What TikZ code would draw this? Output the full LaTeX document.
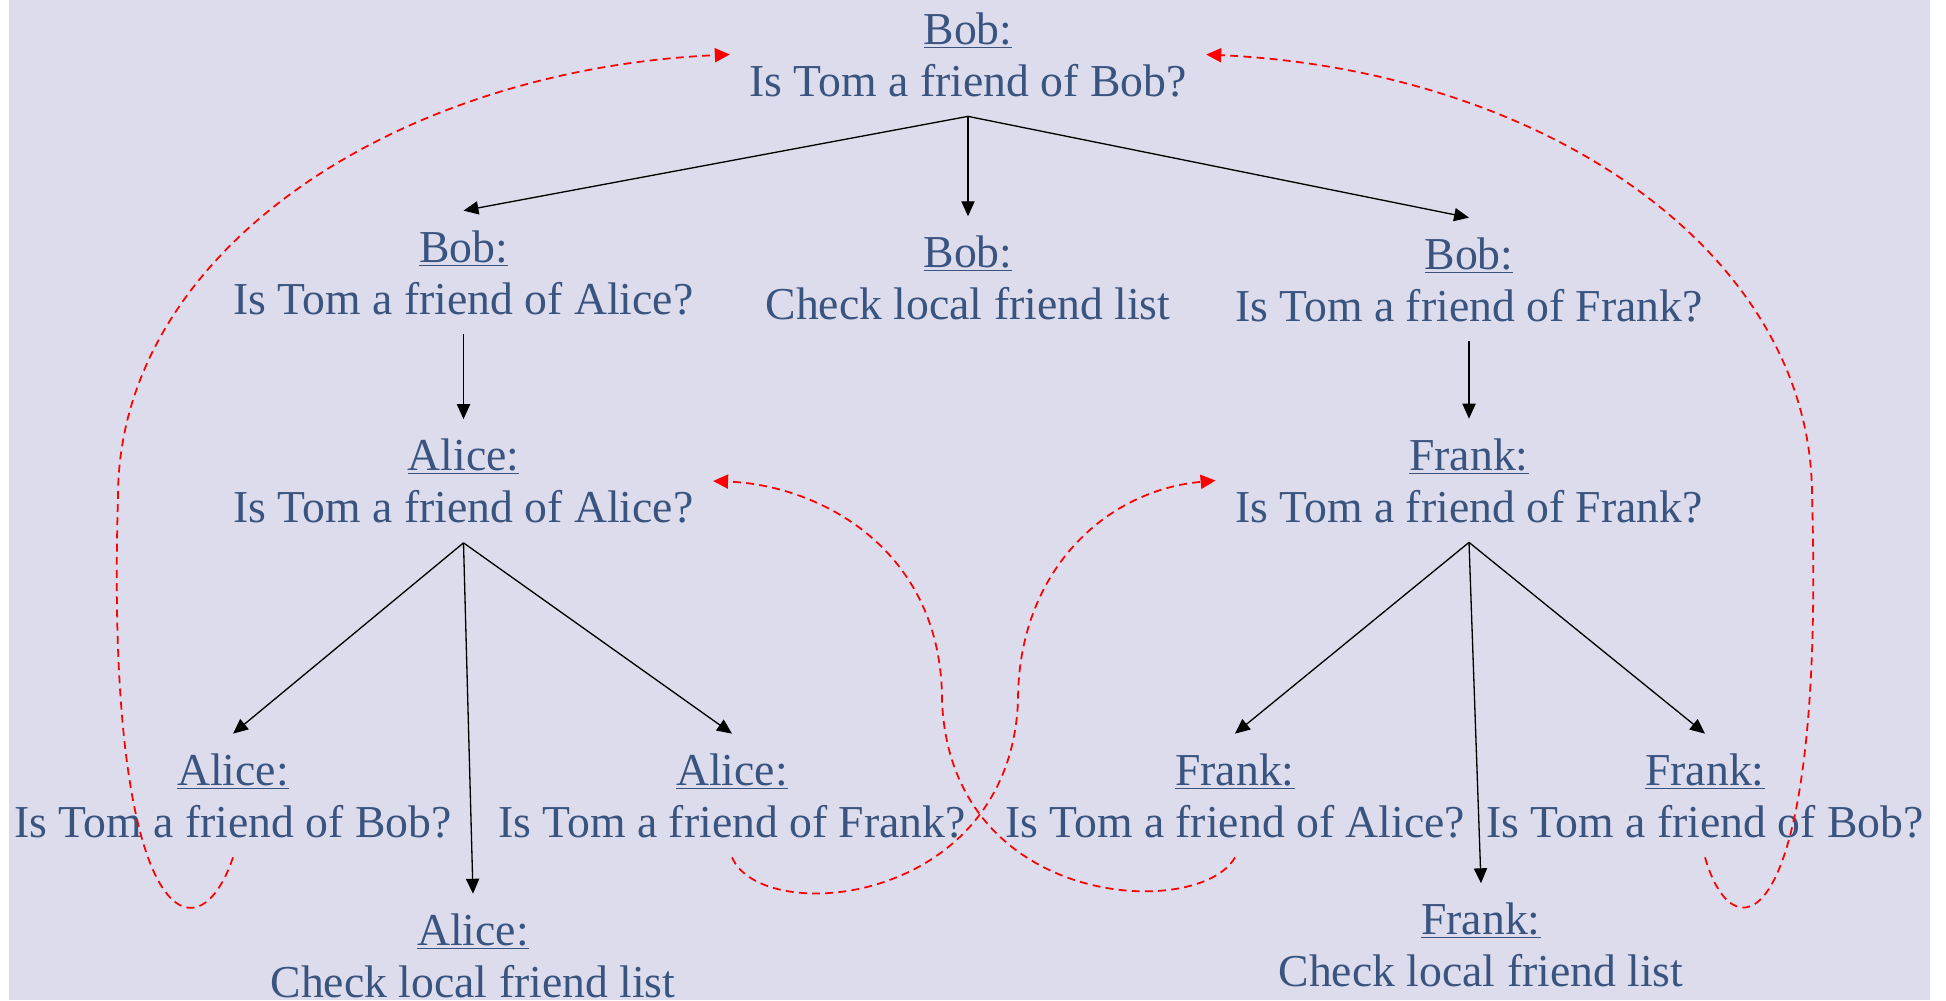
\documentclass[tikz,border=0pt]{standalone}
\usepackage{fontspec}
\setmainfont{Liberation Serif}
\usepackage{xcolor}
\usetikzlibrary{arrows.meta, positioning}
\definecolor{Q_TEXT}{HTML}{3A5480}
\definecolor{Q_BACK}{HTML}{DCDCEC}
\definecolor{Q_RED}{HTML}{FF0000}
\tikzset{
  ask/.style={
    rectangle, inner sep=11pt,
    text centered, align=center,
    text=Q_TEXT, font=\fontsize{26}{29.6}\selectfont},
  arr/.style={-{Triangle[length=8.5pt,width=7.5pt]}, line width=0.75pt, color=black},
  back/.style={-{Triangle[length=8.5pt,width=8pt]}, line width=1pt,
    color=Q_RED, dash pattern=on 4.5pt off 3pt},
}

\begin{document}
\begin{tikzpicture}[on grid]

  \useasboundingbox (0,0) rectangle (38.92,-20);
  \fill[Q_BACK] (0.18,0) rectangle (38.6,-20);

  % Bob asks his own friends
  \node[ask] (bob) at (19.36,-1.09)
    {\underline{Bob:}\\Is Tom a friend of Bob?};

  \node[ask, below=4.36cm of bob, xshift=-10.09cm] (bobAsk)
    {\underline{Bob:}\\Is Tom a friend of Alice?};

  \node[ask, below=4.47cm of bob] (bobList)
    {\underline{Bob:}\\Check local friend list};

  \node[ask, below=4.50cm of bob, xshift=10.02cm] (bobFrk)
    {\underline{Bob:}\\Is Tom a friend of Frank?};

  % forwarded to Alice and Frank
  \node[ask, below=4.17cm of bobAsk] (alice)
    {\underline{Alice:}\\Is Tom a friend of Alice?};

  \node[ask, below=4.02cm of bobFrk] (frank)
    {\underline{Frank:}\\Is Tom a friend of Frank?};

  \node[ask, below=6.29cm of alice, xshift=-4.61cm] (aliceBob)
    {\underline{Alice:}\\Is Tom a friend of Bob?};

  \node[ask, below=6.29cm of alice, xshift=5.37cm] (aliceFrk)
    {\underline{Alice:}\\Is Tom a friend of Frank?};

  \node[ask, below=9.49cm of alice, xshift=0.19cm] (aliceList)
    {\underline{Alice:}\\Check local friend list};

  \node[ask, below=6.30cm of frank, xshift=-4.68cm] (frankAli)
    {\underline{Frank:}\\Is Tom a friend of Alice?};

  \node[ask, below=6.30cm of frank, xshift=4.72cm] (frankBob)
    {\underline{Frank:}\\Is Tom a friend of Bob?};

  \node[ask, below=9.29cm of frank, xshift=0.24cm] (frankList)
    {\underline{Frank:}\\Check local friend list};

  \draw[arr] (bob.south)   -- (bobAsk.north);
  \draw[arr] (bob.south)   -- (bobList.north);
  \draw[arr] (bob.south)   -- (bobFrk.north);
  \draw[arr] (bobAsk.south) -- (alice.north);
  \draw[arr] (bobFrk.south) -- (frank.north);
  \draw[arr] (alice.south) -- (aliceBob.north);
  \draw[arr] (alice.south) -- (aliceFrk.north);
  \draw[arr] (alice.south) -- (aliceList.north);
  \draw[arr] (frank.south) -- (frankAli.north);
  \draw[arr] (frank.south) -- (frankBob.north);
  \draw[arr] (frank.south) -- (frankList.north);

  % queries that loop back
  \draw[back] (aliceBob.south)
    .. controls +(-0.7,-2.1) and +(-0.26,-8.68) .. ++(-2.3,7.21)
    .. controls +(0,4.88) and +(-6.73,-0.31) .. (bob.west);
  \draw[back] (frankBob.south)
    .. controls +(0.6,-2.1) and +(0.26,-8.68) .. ++(2.14,7.23)
    .. controls +(0,4.88) and +(6.73,-0.31) .. (bob.east);
  \draw[back] (aliceFrk.south)
    .. controls +(0.6,-1.4) and +(-0.16,-4.1) .. ++(5.72,3.13)
    .. controls +(0,2.6) and +(-2.2,-0.2) .. (frank.west);
  \draw[back] (frankAli.south)
    .. controls +(-0.7,-1.26) and +(0.16,-4.2) .. ++(-5.86,3.14)
    .. controls +(0,3.0) and +(2.16,-0.08) .. (alice.east);

\end{tikzpicture}
\end{document}
